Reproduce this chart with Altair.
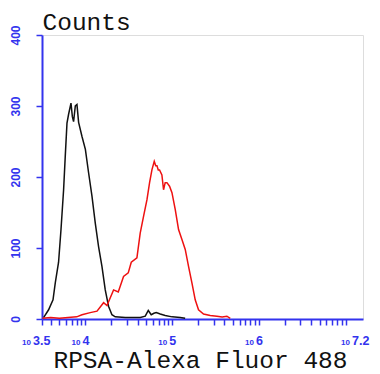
import altair as alt
import pandas as pd

# ---- data (x as log10 of fluorescence, y as counts) ----
black_log = [3.518, 3.576, 3.627, 3.653, 3.691, 3.719, 3.749, 3.768, 3.788, 3.806,
             3.834, 3.850, 3.864, 3.884, 3.903, 3.922, 3.961, 4.000, 4.037, 4.076,
             4.114, 4.152, 4.191, 4.229, 4.267, 4.306, 4.344, 4.460, 4.632, 4.690,
             4.725, 4.759, 4.790, 4.817, 4.863, 4.920, 5.000, 5.093, 5.150]
black_cnt = [2, 13, 27, 51, 80, 126, 182, 229, 276, 288,
             304, 285, 278, 300, 302, 277, 257, 239, 206, 173,
             135, 102, 74, 41, 18, 6, 3, 2, 2, 4,
             12, 6, 8, 9, 7, 5, 3, 2, 1]

red_log = [3.505, 3.600, 3.700, 3.800, 3.900, 3.961, 4.056, 4.134, 4.210, 4.249,
           4.325, 4.379, 4.440, 4.494, 4.529, 4.594, 4.632, 4.671, 4.710, 4.740,
           4.767, 4.794, 4.811, 4.825, 4.840, 4.855, 4.882, 4.901, 4.920, 4.940,
           4.970, 4.998, 5.036, 5.074, 5.113, 5.151, 5.189, 5.228, 5.266, 5.304,
           5.362, 5.439, 5.516, 5.577, 5.631, 5.670]
red_cnt = [1, 2, 1, 2, 3, 6, 9, 11, 23, 19,
           41, 38, 60, 65, 80, 86, 121, 145, 168, 192,
           210, 222, 216, 216, 210, 210, 203, 182, 192, 192,
           187, 178, 154, 126, 112, 98, 74, 51, 27, 13,
           7, 5, 4, 3, 4, 1]

y_ticks = [0, 100, 200, 300, 400]
x_label_exps = ["3.5", "4", "5", "6", "7.2"]

LO, HI = 10 ** 3.5, 10 ** 7.2
BLUE = "#3333ee"

df = pd.DataFrame(
    [{"v": 10 ** a, "c": b, "s": "black"} for a, b in zip(black_log, black_cnt)]
    + [{"v": 10 ** a, "c": b, "s": "red"} for a, b in zip(red_log, red_cnt)]
)

x_tick_vals = [LO]
for k in range(3, 7):
    for m in range(1, 10):
        val = m * 10 ** k
        if LO < val < HI:
            x_tick_vals.append(val)
x_tick_vals.append(10 ** 7)

xscale = alt.Scale(type="log", domain=[LO, HI], nice=False)

lines = alt.Chart(df).mark_line(strokeWidth=1.5).encode(
    x=alt.X("v:Q", scale=xscale,
            axis=alt.Axis(values=x_tick_vals, labels=False, tickSize=6, tickColor=BLUE,
                          tickWidth=1.5, domainColor=BLUE, domainWidth=2, grid=False,
                          title="RPSA-Alexa Fluor 488", titleFont="Liberation Mono",
                          titleFontSize=24.5, titleFontWeight="normal", titleColor="#111111",
                          titleX=158, titleY=48, titleAlign="center",
                          titleBaseline="alphabetic")),
    y=alt.Y("c:Q", scale=alt.Scale(domain=[0, 400], nice=False),
            axis=alt.Axis(values=y_ticks, tickSize=6, tickColor=BLUE, tickWidth=1.5,
                          domainColor=BLUE, domainWidth=2, grid=False,
                          labelAngle=270, labelAlign="center", labelBaseline="bottom",
                          labelPadding=14, labelColor=BLUE, labelFont="Liberation Sans",
                          labelFontSize=12, labelFontWeight="bold",
                          title="Counts", titleFont="Liberation Mono", titleFontSize=24.5,
                          titleFontWeight="normal", titleColor="#111111", titleAngle=0,
                          titleX=0, titleY=-6, titleAlign="left",
                          titleBaseline="alphabetic")),
    color=alt.Color("s:N", scale=alt.Scale(domain=["black", "red"],
                                           range=["#111111", "#ee1111"]), legend=None),
    detail="s:N",
)

lab = pd.DataFrame({"e": x_label_exps, "v": [10 ** float(e) for e in x_label_exps]})


def label_layer(filt, dx10, dxe):
    base = alt.Chart(lab).transform_filter(filt)
    ten = base.mark_text(text="10", align="right", baseline="alphabetic", dx=dx10,
                         fontSize=8, fontWeight="bold", font="Liberation Sans",
                         color=BLUE).encode(x=alt.X("v:Q", scale=xscale), y=alt.value(310))
    ex = base.mark_text(align="left", baseline="alphabetic", dx=dxe, fontSize=12.5,
                        fontWeight="bold", font="Liberation Sans", color=BLUE).encode(
        x=alt.X("v:Q", scale=xscale), y=alt.value(310), text="e:N")
    return ten + ex


labels = (label_layer("datum.e != '3.5' && datum.e != '7.2'", -5, -3)
          + label_layer("datum.e == '3.5'", -11, -9)
          + label_layer("datum.e == '7.2'", -13, -11))

chart = (lines + labels).properties(
    width=321, height=284, autosize="none",
    padding={"left": 34, "top": 27, "right": 9, "bottom": 58},
).configure_view(stroke="#5050f0", strokeWidth=2).configure(background="white")

chart.save("out.html", embed_options={"renderer": "svg", "actions": False})
